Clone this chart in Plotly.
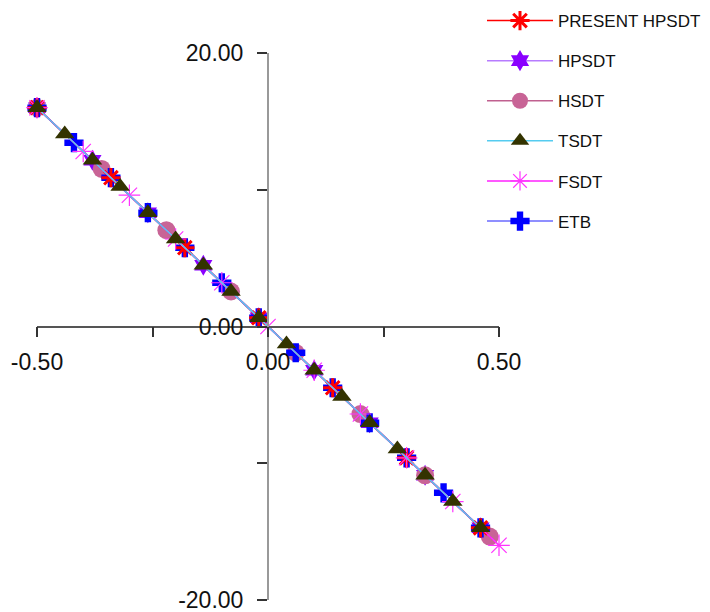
import plotly.graph_objects as go

# Bending stress across the thickness (z/h) for each theory
present_x = [-0.50, -0.34, -0.18, -0.02, 0.14, 0.30, 0.46]
present_y = [16.00, 10.88, 5.76, 0.64, -4.48, -9.60, -14.72]

hpsdt_x = [-0.50, -0.38, -0.26, -0.14, -0.02, 0.10, 0.22, 0.34, 0.46]
hpsdt_y = [16.00, 12.16, 8.32, 4.48, 0.64, -3.20, -7.04, -10.88, -14.72]

hsdt_x = [-0.50, -0.36, -0.22, -0.08, 0.06, 0.20, 0.34, 0.48]
hsdt_y = [16.00, 11.52, 7.04, 2.56, -1.92, -6.40, -10.88, -15.36]

tsdt_x = [-0.50, -0.44, -0.38, -0.32, -0.26, -0.20, -0.14, -0.08, -0.02,
          0.04, 0.10, 0.16, 0.22, 0.28, 0.34, 0.40, 0.46]
tsdt_y = [16.00, 14.08, 12.16, 10.24, 8.32, 6.40, 4.48, 2.56, 0.64,
          -1.28, -3.20, -5.12, -7.04, -8.96, -10.88, -12.80, -14.72]

fsdt_x = [-0.50, -0.40, -0.30, -0.20, -0.10, 0.00, 0.10, 0.20, 0.30, 0.40, 0.50]
fsdt_y = [16.00, 12.80, 9.60, 6.40, 3.20, 0.00, -3.20, -6.40, -9.60, -12.80, -16.00]

etb_x = [-0.50, -0.42, -0.34, -0.26, -0.18, -0.10, -0.02, 0.06, 0.14, 0.22, 0.30, 0.38, 0.46]
etb_y = [16.00, 13.44, 10.88, 8.32, 5.76, 3.20, 0.64, -1.92, -4.48, -7.04, -9.60, -12.16, -14.72]

x_tick_vals = [-0.5, -0.25, 0.0, 0.25, 0.5]
x_tick_text = ["-0.50", "", "0.00", "", "0.50"]
y_tick_vals = [-20, -10, 0, 10, 20]
y_tick_text = ["-20.00", "", "0.00", "", "20.00"]

TICK_FONT = "Liberation Sans, Arial, sans-serif"
LEGEND_FONT = "Liberation Sans, Arial, sans-serif"

fig = go.Figure()


def add_series(name, xs, ys, line_color, marker, rank):
    fig.add_trace(go.Scatter(
        x=xs, y=ys, name=name, mode="lines+markers",
        line=dict(color=line_color, width=1.5),
        marker=marker, cliponaxis=False,
        legendrank=rank, legendgroup=name,
    ))


# drawing order (bottom to top); legend order set by legendrank
add_series("HPSDT", hpsdt_x, hpsdt_y, "#b77cff",
           dict(symbol="hexagram", size=16, color="#8a00ff", line=dict(width=0)), 2)
add_series("HSDT", hsdt_x, hsdt_y, "#c0608f",
           dict(symbol="circle", size=18, color="#c86496", line=dict(width=0)), 3)
add_series("ETB", etb_x, etb_y, "#6a6aff",
           dict(symbol="cross", size=16, color="#0000ff", line=dict(width=0)), 6)
add_series("PRESENT HPSDT", present_x, present_y, "#ff0000",
           dict(symbol="asterisk-open", size=16, color="#ff0000",
                line=dict(color="#ff0000", width=3)), 1)
add_series("FSDT", fsdt_x, fsdt_y, "#ff22ff",
           dict(symbol="asterisk-open", size=18, color="#ff33ff",
                line=dict(color="#ff33ff", width=1.2)), 5)
add_series("TSDT", tsdt_x, tsdt_y, "#55ccf0",
           dict(symbol="triangle-up", size=17, color="#333300", line=dict(width=0)), 4)

fig.update_layout(
    width=710, height=612,
    margin=dict(l=37, r=211, t=53, b=12, autoexpand=False),
    paper_bgcolor="white", plot_bgcolor="white",
    showlegend=True,
    legend=dict(
        xref="container", yref="container",
        x=482 / 710, y=1 - 3 / 612, xanchor="left", yanchor="top",
        font=dict(family=LEGEND_FONT, size=17, color="#111"),
        itemwidth=66, tracegroupgap=15, bgcolor="rgba(0,0,0,0)",
    ),
    xaxis=dict(
        range=[-0.5, 0.5], anchor="free", position=0.5,
        tickmode="array", tickvals=x_tick_vals, ticktext=x_tick_text,
        ticks="outside", ticklen=10, tickwidth=1.5, tickcolor="#333",
        showline=True, linecolor="#555", linewidth=1.5,
        showgrid=False, zeroline=False,
        tickfont=dict(family=TICK_FONT, size=23, color="#111"),
        ticklabelstandoff=5, ticklabeloverflow="allow",
    ),
    yaxis=dict(
        range=[-20, 20], anchor="free", position=0.5,
        tickmode="array", tickvals=y_tick_vals, ticktext=y_tick_text,
        ticks="outside", ticklen=10, tickwidth=1.5, tickcolor="#333",
        showline=True, linecolor="#999", linewidth=2,
        showgrid=False, zeroline=False,
        tickfont=dict(family=TICK_FONT, size=23, color="#111"),
        ticklabelstandoff=9, ticklabeloverflow="allow",
    ),
)

fig.write_html("out.html")
